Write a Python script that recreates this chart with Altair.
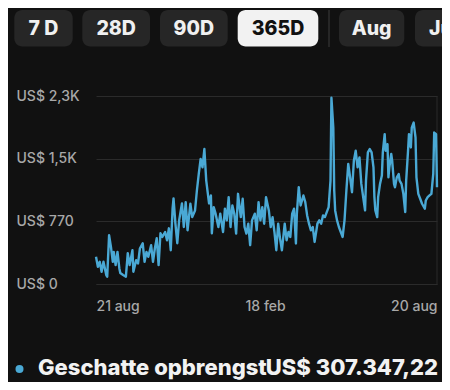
import altair as alt
import pandas as pd

# ---- data ----
days = [0, 2, 4, 6, 8, 11, 12, 14, 16, 18, 19, 21, 23, 25, 26, 29, 32, 34, 36, 39,
        40, 43, 45, 47, 50, 52, 54, 56, 59, 61, 63, 65, 67, 69, 71, 74, 76, 78, 80, 82,
        83, 85, 87, 89, 92, 94, 96, 98, 101, 103, 106, 108, 110, 112, 114, 116, 118, 121, 123, 124,
        126, 128, 131, 133, 136, 138, 140, 142, 144, 146, 148, 150, 152, 155, 157, 159, 161, 163, 165, 167,
        170, 172, 174, 176, 178, 180, 182, 185, 187, 189, 191, 193, 195, 197, 199, 202, 204, 206, 208, 210,
        212, 214, 215, 217, 219, 222, 224, 226, 228, 230, 232, 234, 237, 239, 241, 243, 245, 247, 249, 251,
        252, 254, 255, 256, 258, 260, 262, 264, 266, 268, 270, 272, 274, 276, 278, 280, 282, 284, 287, 288,
        289, 291, 293, 295, 297, 298, 299, 301, 302, 304, 306, 307, 309, 310, 312, 313, 314, 316, 317, 319,
        320, 322, 324, 325, 327, 329, 331, 332, 334, 335, 337, 338, 340, 342, 343, 345, 347, 349, 352, 353,
        355, 357, 359, 361, 362, 364, 365]

revenue = [334, 211, 273, 150, 273, 110, 90, 599, 456, 273, 395, 232, 395, 191, 134, 110, 90, 379, 232, 415,
           150, 293, 253, 436, 501, 273, 395, 334, 477, 273, 436, 562, 232, 623, 578, 639, 538, 684, 415, 929,
           1051, 741, 501, 782, 990, 700, 1006, 660, 986, 822, 904, 1149, 1353, 1536, 1434, 1658, 1271, 990, 1088, 623,
           945, 864, 700, 864, 639, 925, 782, 1067, 700, 965, 864, 619, 1108, 822, 1047, 700, 619, 741, 477, 782,
           864, 660, 1006, 782, 945, 741, 1067, 904, 700, 822, 639, 415, 741, 558, 415, 741, 538, 639, 578, 864,
           925, 497, 864, 1189, 965, 1088, 1006, 843, 741, 660, 700, 517, 741, 782, 741, 843, 822, 884, 945, 1271,
           2289, 1922, 1149, 904, 782, 700, 639, 578, 782, 1149, 1475, 1311, 1128, 1515, 1637, 1434, 1556, 1230, 986, 904,
           1271, 1617, 1658, 1617, 1434, 1067, 904, 822, 1067, 1230, 1332, 1617, 1841, 1637, 1718, 1311, 1434, 1597, 1515, 1230,
           1189, 1311, 1352, 1271, 1230, 1108, 884, 1271, 1637, 1841, 1678, 1922, 1983, 1800, 1311, 1108, 1047, 986, 925, 1026,
           1067, 1088, 1108, 1352, 1861, 1841, 1189]

x_tick_days = [0, 181, 365]
x_tick_labels = ["21 aug", "18 feb", "20 aug"]
y_tick_values = [0, 770, 1540, 2310]
y_tick_labels = ["US$ 0", "US$ 770", "US$ 1,5K", "US$ 2,3K"]

buttons = ["7 D", "28D", "90D", "365D", "Aug", "Ju"]
selected_button = "365D"
legend_name = "Geschatte opbrengst"
legend_total = "US$ 307.347,22"

# ---- styling ----
BG = "#111111"
LINE = "#4aa9d5"
GRID = "#2b2b2b"
LABEL = "#a8a8a8"
FONT = "Inter"
W, H = 341, 188

df = pd.DataFrame({"day": days, "revenue": revenue})


def label_expr(values, labels):
    expr = "''"
    for v, l in zip(values, labels):
        expr = f"datum.value == {v} ? '{l}' : ({expr})"
    return expr


one = alt.Data(values=[{}])

line = alt.Chart(df).mark_line(color=LINE, strokeWidth=2.4, strokeJoin="round").encode(
    x=alt.X("day:Q", scale=alt.Scale(domain=[0, 365], nice=False, zero=False),
            axis=alt.Axis(values=x_tick_days, labelExpr=label_expr(x_tick_days, x_tick_labels),
                          grid=False, ticks=False, tickSize=0, domain=True, domainColor=GRID,
                          domainWidth=1, labelFlush=True, labelPadding=15, labelBaseline="top",
                          labelColor=LABEL, labelFont=FONT, labelFontSize=14, labelFontWeight=500,
                          title=None)),
    y=alt.Y("revenue:Q", scale=alt.Scale(domain=[0, 2310], nice=False),
            axis=alt.Axis(values=y_tick_values, labelExpr=label_expr(y_tick_values, y_tick_labels),
                          grid=True, gridColor=GRID, gridWidth=1, ticks=False, tickSize=0, domain=False,
                          labelAlign="left", labelBaseline="middle", labelPadding=80, labelFlush=False,
                          labelColor=LABEL, labelFont=FONT, labelFontSize=14, labelFontWeight=500,
                          title=None)),
)

border = alt.Chart(one).mark_rule(color=GRID, strokeWidth=1).encode(
    x=alt.value(W), y=alt.value(0), y2=alt.value(H))

layers = [border, line]

# tab buttons (pixel positions relative to plot origin)
btn_x = [(-81.7, -23.3), (-13.7, 54), (64, 131.7), (141.7, 222.3), (243, 308.3), (319, 420)]
for (x0, x1), name in zip(btn_x, buttons):
    sel = name == selected_button
    layers.append(alt.Chart(one).mark_rect(cornerRadius=8, color="#f2f2f2" if sel else "#262626").encode(
        x=alt.value(x0), x2=alt.value(x1), y=alt.value(-86), y2=alt.value(-49.5)))
    if name == "Ju":
        tx, al = 333, "left"
    else:
        tx, al = (x0 + x1) / 2, "center"
    layers.append(alt.Chart(one).mark_text(
        text=name, font=FONT, fontSize=19.5, fontWeight=800, align=al, baseline="middle",
        color="#111111" if sel else "#f0f0f0").encode(x=alt.value(tx), y=alt.value(-67.5)))

layers.append(alt.Chart(one).mark_rule(color="#2e2e2e", strokeWidth=1.5).encode(
    x=alt.value(233), y=alt.value(-86), y2=alt.value(-49)))

# legend
layers.append(alt.Chart(one).mark_circle(color=LINE, size=64, opacity=1).encode(
    x=alt.value(-76.5), y=alt.value(273)))
layers.append(alt.Chart(one).mark_text(
    text=legend_name, font=FONT, fontSize=22, fontWeight=800, align="left", baseline="middle",
    color="#f2f2f2").encode(x=alt.value(-58), y=alt.value(272)))
layers.append(alt.Chart(one).mark_text(
    text=legend_total, font=FONT, fontSize=22, fontWeight=800, align="right", baseline="middle",
    color="#f2f2f2").encode(x=alt.value(342), y=alt.value(272)))

chart = alt.layer(*layers).properties(
    width=W, height=H,
    autosize=alt.AutoSizeParams(type="none"),
    padding={"left": 88, "top": 88, "right": 5, "bottom": 98},
    background=BG,
).configure_view(stroke=None)

chart.save("out.html", embed_options={"renderer": "svg", "actions": False})
